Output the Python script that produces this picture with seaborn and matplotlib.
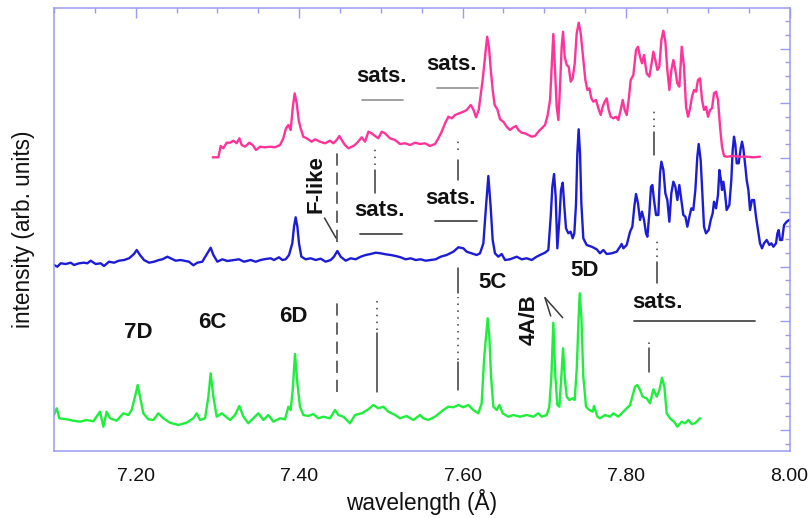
import matplotlib
matplotlib.use("Agg")
import matplotlib.pyplot as plt
from matplotlib.ticker import MultipleLocator, FormatStrFormatter, NullFormatter
import pandas as pd
import seaborn as sns

# ---- spectra (wavelength in Angstrom, intensity in arbitrary units, stacked) ----
low_wl = [7.1000, 7.1033, 7.1065, 7.1155, 7.1237, 7.1318, 7.1400, 7.1481, 7.1563, 7.1604,
          7.1644, 7.1685, 7.1767, 7.1848, 7.1910, 7.1950, 7.1991, 7.2024, 7.2052, 7.2093,
          7.2154, 7.2216, 7.2277, 7.2338, 7.2419, 7.2521, 7.2623, 7.2705, 7.2746, 7.2787,
          7.2848, 7.2889, 7.2917, 7.2950, 7.2991, 7.3052, 7.3154, 7.3215, 7.3268, 7.3317,
          7.3378, 7.3439, 7.3500, 7.3562, 7.3623, 7.3684, 7.3766, 7.3827, 7.3868, 7.3896,
          7.3921, 7.3949, 7.3978, 7.4010, 7.4051, 7.4112, 7.4173, 7.4235, 7.4296, 7.4377,
          7.4439, 7.4479, 7.4541, 7.4622, 7.4683, 7.4765, 7.4847, 7.4908, 7.4969, 7.5030,
          7.5091, 7.5173, 7.5234, 7.5315, 7.5397, 7.5479, 7.5519, 7.5581, 7.5662, 7.5764,
          7.5825, 7.5887, 7.5948, 7.6009, 7.6070, 7.6131, 7.6192, 7.6233, 7.6262, 7.6286,
          7.6307, 7.6327, 7.6348, 7.6376, 7.6417, 7.6450, 7.6490, 7.6560, 7.6621, 7.6703,
          7.6784, 7.6866, 7.6927, 7.6968, 7.7029, 7.7061, 7.7086, 7.7110, 7.7135, 7.7159,
          7.7184, 7.7208, 7.7229, 7.7249, 7.7274, 7.7306, 7.7347, 7.7371, 7.7396, 7.7420,
          7.7433, 7.7453, 7.7477, 7.7510, 7.7551, 7.7592, 7.7608, 7.7649, 7.7681, 7.7743,
          7.7804, 7.7845, 7.7906, 7.7947, 7.7987, 7.8049, 7.8110, 7.8138, 7.8171, 7.8203,
          7.8252, 7.8293, 7.8334, 7.8375, 7.8408, 7.8440, 7.8469, 7.8497, 7.8538, 7.8587,
          7.8628, 7.8681, 7.8721, 7.8762, 7.8803, 7.8844, 7.8905]
low_int = [15.0, 21.7, 11.7, 10.7, 9.3, 8.3, 10.0, 8.7, 18.3, 3.3,
           18.3, 11.7, 9.3, 16.7, 15.0, 20.0, 33.3, 45.0, 33.3, 16.7,
           10.7, 10.0, 16.7, 11.7, 7.3, 5.0, 7.3, 11.7, 16.7, 10.0,
           11.7, 33.3, 56.7, 33.3, 13.3, 16.7, 10.0, 15.0, 24.0, 13.3,
           6.7, 11.7, 16.7, 10.0, 15.0, 8.3, 11.7, 10.7, 23.3, 20.0,
           40.0, 76.0, 46.7, 23.3, 15.0, 14.0, 16.0, 11.7, 13.3, 11.7,
           20.0, 15.0, 13.3, 6.7, 15.0, 16.7, 20.7, 25.0, 21.7, 23.3,
           18.3, 15.0, 11.7, 14.0, 10.0, 15.0, 11.7, 10.0, 13.3, 20.0,
           23.3, 22.7, 25.0, 22.7, 25.0, 20.0, 16.7, 26.7, 70.0, 93.3,
           111.7, 93.3, 53.3, 23.3, 20.0, 25.0, 16.7, 13.3, 15.0, 13.3,
           15.0, 13.3, 16.7, 13.3, 15.0, 23.3, 53.3, 107.3, 53.3, 25.0,
           23.3, 53.3, 81.7, 53.3, 33.3, 30.0, 31.7, 30.0, 60.0, 113.3,
           136.7, 113.3, 53.3, 23.3, 20.0, 18.3, 24.0, 13.3, 11.7, 15.0,
           13.3, 16.7, 13.3, 16.7, 20.0, 25.0, 43.3, 45.0, 40.0, 33.3,
           31.7, 26.7, 40.7, 33.3, 40.0, 52.3, 43.3, 16.7, 11.7, 8.3,
           3.3, 8.3, 6.7, 10.0, 6.0, 6.7, 11.7]

mid_wl = [7.1000, 7.1041, 7.1082, 7.1143, 7.1204, 7.1245, 7.1306, 7.1367, 7.1408, 7.1449,
          7.1510, 7.1571, 7.1612, 7.1673, 7.1734, 7.1795, 7.1857, 7.1918, 7.1979, 7.2012,
          7.2052, 7.2101, 7.2163, 7.2224, 7.2285, 7.2326, 7.2387, 7.2428, 7.2489, 7.2550,
          7.2611, 7.2652, 7.2705, 7.2754, 7.2815, 7.2876, 7.2917, 7.2950, 7.2999, 7.3060,
          7.3121, 7.3203, 7.3264, 7.3325, 7.3407, 7.3468, 7.3529, 7.3590, 7.3651, 7.3692,
          7.3753, 7.3794, 7.3835, 7.3876, 7.3916, 7.3937, 7.3957, 7.3978, 7.3998, 7.4027,
          7.4080, 7.4141, 7.4202, 7.4263, 7.4324, 7.4386, 7.4426, 7.4467, 7.4508, 7.4569,
          7.4630, 7.4691, 7.4753, 7.4814, 7.4875, 7.4936, 7.4997, 7.5059, 7.5120, 7.5181,
          7.5242, 7.5303, 7.5365, 7.5426, 7.5487, 7.5548, 7.5609, 7.5670, 7.5732, 7.5805,
          7.5887, 7.5948, 7.6009, 7.6050, 7.6111, 7.6172, 7.6213, 7.6254, 7.6286, 7.6315,
          7.6343, 7.6368, 7.6396, 7.6437, 7.6478, 7.6519, 7.6580, 7.6662, 7.6723, 7.6784,
          7.6845, 7.6906, 7.6947, 7.7008, 7.7049, 7.7078, 7.7098, 7.7119, 7.7139, 7.7159,
          7.7184, 7.7204, 7.7225, 7.7245, 7.7265, 7.7294, 7.7322, 7.7347, 7.7367, 7.7388,
          7.7404, 7.7420, 7.7437, 7.7453, 7.7477, 7.7518, 7.7579, 7.7641, 7.7681, 7.7722,
          7.7763, 7.7824, 7.7885, 7.7926, 7.7946, 7.7967, 7.8008, 7.8049, 7.8077, 7.8101,
          7.8122, 7.8146, 7.8171, 7.8195, 7.8220, 7.8244, 7.8261, 7.8285, 7.8305, 7.8322,
          7.8342, 7.8367, 7.8395, 7.8416, 7.8432, 7.8457, 7.8481, 7.8505, 7.8530, 7.8554,
          7.8579, 7.8603, 7.8628, 7.8652, 7.8677, 7.8701, 7.8726, 7.8750, 7.8775, 7.8799,
          7.8823, 7.8848, 7.8872, 7.8889, 7.8913, 7.8929, 7.8954, 7.8978, 7.9011, 7.9036,
          7.9060, 7.9076, 7.9101, 7.9125, 7.9142, 7.9158, 7.9174, 7.9191, 7.9211, 7.9231,
          7.9264, 7.9288, 7.9305, 7.9321, 7.9338, 7.9354, 7.9378, 7.9403, 7.9419, 7.9435,
          7.9460, 7.9476, 7.9497, 7.9517, 7.9541, 7.9566, 7.9590, 7.9615, 7.9639, 7.9664,
          7.9688, 7.9721, 7.9754, 7.9778, 7.9803, 7.9835, 7.9852, 7.9868, 7.9884, 7.9909,
          7.9933, 7.9966, 7.9995]
mid_int = [165.0, 163.3, 166.7, 166.0, 167.3, 165.0, 166.7, 167.3, 166.7, 169.3,
           166.0, 166.7, 164.0, 168.3, 167.3, 169.3, 170.0, 171.7, 176.0, 180.0,
           175.0, 170.0, 167.3, 168.3, 170.0, 170.7, 173.3, 171.7, 169.3, 170.0,
           169.0, 168.3, 164.7, 167.3, 168.3, 176.7, 182.3, 175.0, 168.3, 170.7,
           169.0, 170.0, 170.7, 168.3, 170.0, 168.3, 170.0, 171.0, 171.7, 170.0,
           172.7, 170.0, 170.7, 175.0, 186.7, 203.3, 212.7, 203.3, 186.7, 173.3,
           170.7, 171.7, 170.0, 171.3, 168.3, 170.0, 173.3, 179.0, 173.3, 169.3,
           171.7, 170.7, 173.3, 175.0, 176.0, 177.3, 176.7, 175.7, 175.0, 174.0,
           172.7, 170.7, 171.7, 170.0, 170.7, 169.3, 170.0, 170.7, 173.3, 175.0,
           178.3, 182.7, 181.7, 178.3, 176.7, 175.0, 176.7, 186.7, 223.3, 254.0,
           223.3, 190.0, 176.7, 173.3, 176.0, 170.0, 170.7, 173.3, 170.7, 171.7,
           170.0, 173.3, 175.0, 177.3, 180.0, 213.3, 243.3, 256.0, 233.3, 181.7,
           210.0, 240.0, 247.3, 223.3, 201.7, 196.7, 198.3, 191.7, 196.7, 226.7,
           276.7, 300.7, 276.7, 226.7, 191.7, 185.0, 183.3, 180.7, 176.7, 180.0,
           176.0, 176.7, 178.3, 183.3, 186.0, 181.7, 185.0, 198.3, 203.3, 223.3,
           236.0, 226.7, 210.0, 218.3, 210.0, 196.7, 193.3, 216.7, 243.3, 245.0,
           230.0, 215.0, 215.0, 256.7, 268.3, 260.0, 236.7, 230.0, 208.3, 236.7,
           248.3, 243.3, 230.0, 245.0, 230.0, 215.0, 213.3, 203.3, 213.3, 221.7,
           220.0, 240.0, 273.3, 286.0, 270.0, 243.3, 203.3, 196.7, 200.0, 210.0,
           216.7, 228.3, 221.7, 235.0, 260.0, 251.7, 240.0, 248.3, 236.7, 220.0,
           225.0, 250.0, 280.0, 293.3, 285.0, 266.7, 266.7, 281.7, 288.3, 281.7,
           263.3, 250.0, 240.0, 220.0, 230.0, 230.0, 213.3, 200.0, 186.7, 181.7,
           186.7, 190.0, 185.0, 186.7, 183.3, 186.7, 196.7, 200.0, 190.0, 190.0,
           205.0, 208.3, 210.0]

high_wl = [7.2942, 7.3011, 7.3040, 7.3072, 7.3113, 7.3154, 7.3195, 7.3235, 7.3268, 7.3297,
           7.3337, 7.3390, 7.3431, 7.3472, 7.3521, 7.3582, 7.3643, 7.3704, 7.3766, 7.3806,
           7.3839, 7.3868, 7.3896, 7.3921, 7.3945, 7.3970, 7.3994, 7.4018, 7.4051, 7.4092,
           7.4153, 7.4194, 7.4255, 7.4316, 7.4377, 7.4418, 7.4459, 7.4492, 7.4520, 7.4561,
           7.4602, 7.4663, 7.4704, 7.4765, 7.4806, 7.4847, 7.4887, 7.4928, 7.4969, 7.5010,
           7.5050, 7.5112, 7.5173, 7.5234, 7.5295, 7.5357, 7.5418, 7.5479, 7.5540, 7.5601,
           7.5663, 7.5703, 7.5744, 7.5785, 7.5826, 7.5867, 7.5907, 7.5960, 7.6009, 7.6050,
           7.6099, 7.6131, 7.6164, 7.6197, 7.6245, 7.6275, 7.6300, 7.6322, 7.6345, 7.6368,
           7.6392, 7.6425, 7.6458, 7.6498, 7.6539, 7.6580, 7.6621, 7.6654, 7.6682, 7.6723,
           7.6764, 7.6804, 7.6845, 7.6886, 7.6927, 7.6968, 7.7008, 7.7037, 7.7070, 7.7094,
           7.7110, 7.7131, 7.7151, 7.7172, 7.7192, 7.7212, 7.7229, 7.7249, 7.7274, 7.7298,
           7.7323, 7.7347, 7.7372, 7.7396, 7.7421, 7.7445, 7.7469, 7.7502, 7.7527, 7.7551,
           7.7575, 7.7600, 7.7632, 7.7661, 7.7690, 7.7714, 7.7739, 7.7763, 7.7788, 7.7812,
           7.7845, 7.7877, 7.7906, 7.7934, 7.7959, 7.7983, 7.8008, 7.8032, 7.8057, 7.8089,
           7.8122, 7.8146, 7.8171, 7.8195, 7.8220, 7.8252, 7.8285, 7.8313, 7.8334, 7.8358,
           7.8383, 7.8407, 7.8432, 7.8456, 7.8481, 7.8505, 7.8530, 7.8554, 7.8579, 7.8603,
           7.8627, 7.8652, 7.8681, 7.8709, 7.8734, 7.8758, 7.8783, 7.8807, 7.8832, 7.8856,
           7.8880, 7.8905, 7.8930, 7.8954, 7.8978, 7.9003, 7.9027, 7.9052, 7.9076, 7.9101,
           7.9125, 7.9150, 7.9174, 7.9199, 7.9231, 7.9313, 7.9394, 7.9476, 7.9558, 7.9639]
high_int = [272.7, 272.7, 284.0, 281.7, 287.3, 287.3, 289.3, 286.7, 291.7, 285.0,
            283.3, 287.3, 285.0, 280.0, 283.3, 282.7, 283.3, 282.7, 285.0, 291.7,
            301.7, 305.0, 300.0, 321.7, 336.7, 326.7, 310.0, 301.7, 293.3, 291.7,
            288.3, 290.7, 288.3, 286.7, 289.3, 286.7, 290.0, 294.0, 290.0, 285.0,
            281.7, 284.0, 286.7, 292.7, 288.3, 298.3, 296.7, 294.0, 291.7, 298.3,
            296.7, 291.7, 290.0, 286.0, 286.7, 285.0, 287.3, 286.0, 286.7, 284.0,
            286.0, 291.7, 298.3, 306.7, 313.3, 311.7, 315.0, 316.7, 318.3, 320.0,
            325.0, 320.7, 312.7, 320.0, 350.0, 373.3, 393.3, 383.3, 360.0, 340.0,
            325.0, 320.7, 310.7, 308.3, 303.3, 300.0, 302.7, 304.0, 300.0, 297.3,
            296.7, 295.0, 293.3, 294.0, 298.3, 301.7, 305.0, 313.3, 330.0, 370.0,
            396.0, 360.0, 323.3, 310.0, 343.3, 383.3, 398.3, 373.3, 365.0, 363.3,
            348.3, 351.7, 366.7, 396.7, 407.3, 396.7, 376.7, 350.0, 340.0, 341.7,
            331.7, 328.3, 330.0, 321.7, 315.0, 323.3, 328.3, 331.7, 320.0, 313.3,
            311.7, 313.3, 310.0, 320.0, 330.0, 320.0, 315.0, 330.0, 350.0, 355.0,
            380.0, 383.3, 373.3, 366.7, 375.0, 356.7, 353.3, 366.7, 378.3, 370.0,
            360.0, 363.3, 390.0, 399.3, 388.3, 360.0, 340.0, 360.0, 370.0, 360.0,
            346.7, 343.3, 383.3, 363.3, 323.3, 313.3, 321.7, 333.3, 340.0, 338.3,
            350.0, 351.7, 330.0, 320.0, 323.3, 313.3, 320.0, 321.7, 336.7, 338.3,
            330.0, 303.3, 283.3, 274.0, 273.3, 274.0, 273.3, 273.3, 272.7, 273.3]

# ---- line identifications ----
peak_names = ["7D", "6C", "6D", "5C", "5D"]
peak_wl = [7.2028, 7.2933, 7.3925, 7.6360, 7.7486]

AXIS_COL = "#9a9af2"
INK = "#111111"
MARK = "#3a3a3a"

sns.set_style("white")
plt.rcParams["font.family"] = ["Liberation Sans", "DejaVu Sans"]

fig = plt.figure(figsize=(8.09, 5.18), dpi=100)
ax = fig.add_axes([54 / 809, 1 - 451.3 / 518, 735.5 / 809, 443.6 / 518])

traces = [(low_wl, low_int, "#1fee3c"), (mid_wl, mid_int, "#1c1cd6"), (high_wl, high_int, "#ff3399")]
for wl, inten, col in traces:
    df = pd.DataFrame({"wavelength": wl, "intensity": inten})
    sns.lineplot(data=df, x="wavelength", y="intensity", color=col, lw=1.7,
                 estimator=None, sort=False, ax=ax)

ax.set_xlim(7.10, 8.00)
ax.set_ylim(-21.3, 422.3)

# ---- axes styling ----
for s in ax.spines.values():
    s.set_color(AXIS_COL)
    s.set_linewidth(1.1)
ax.xaxis.set_major_locator(MultipleLocator(0.2))
ax.xaxis.set_minor_locator(MultipleLocator(0.05))
ax.xaxis.set_major_formatter(FormatStrFormatter("%.2f"))
ax.yaxis.set_major_locator(MultipleLocator(54.5))
ax.yaxis.set_minor_locator(MultipleLocator(13.625))
ax.yaxis.set_major_formatter(NullFormatter())
ax.tick_params(which="both", direction="in", top=True, right=True, color=AXIS_COL, width=1.0)
ax.tick_params(which="major", length=7)
ax.tick_params(which="minor", length=3.5)
ax.tick_params(axis="x", labelsize=14, pad=12, labelcolor=INK)
ax.tick_params(axis="y", labelleft=False)
ax.set_xlabel("wavelength (Å)", fontsize=16.3, labelpad=3, color=INK)
ax.set_ylabel("intensity (arb. units)", fontsize=16.3, labelpad=10, color=INK)

# ---- marker lines: (wavelength, low, high, style) ----
DOT = (0, (1, 3.5))
DASH = (0, (8, 4.5))
marks = [
    (7.4467, 188, 282, DASH), (7.4467, 38, 132, DASH),
    (7.4928, 265, 284, DOT), (7.4928, 237, 260, "-"),
    (7.4950, 100, 132, DOT), (7.4950, 38, 97, "-"),
    (7.5947, 280, 290, DOT), (7.5947, 250, 270, "-"),
    (7.5947, 137, 162, "-"), (7.5947, 70, 133, DOT), (7.5947, 40, 68, "-"),
    (7.8342, 303, 323, DOT), (7.8342, 275, 298, "-"),
    (7.8379, 173, 193, DOT), (7.8379, 147, 168, "-"),
    (7.8281, 86, 90, DOT), (7.8281, 58, 82, "-"),
]
for w, y0, y1, ls in marks:
    ax.plot([w, w], [y0, y1], color=MARK, lw=1.1, linestyle=ls)

# satellite bars
bars = [(7.4769, 7.5271, 330, "#9a9a9a"), (7.5687, 7.6189, 342, "#9a9a9a"),
        (7.4744, 7.5258, 196, "#4a4a4a"), (7.5662, 7.6176, 209, "#4a4a4a"),
        (7.8097, 7.9578, 109, "#4a4a4a")]
for x0, x1, y, c in bars:
    ax.plot([x0, x1], [y, y], color=c, lw=1.3)

bold = dict(fontsize=16, fontweight="bold", color=INK, ha="center", va="center")
for x, y in [(7.5001, 354), (7.5858, 366), (7.4977, 220), (7.5846, 232), (7.8379, 128)]:
    ax.text(x, y, "sats.", **bold)
for name, w, y in zip(peak_names, peak_wl, [97, 108, 113, 147, 159]):
    ax.text(w, y, name, **bold)
ax.text(7.4206, 246, "F-like", rotation=90, **bold)
ax.text(7.6813, 110, "4A/B", rotation=90, **bold)

# leaders
ax.plot([7.4310, 7.4451], [212, 192], color=MARK, lw=1.1)
ax.plot([7.7008, 7.7078], [132.3, 114], color=MARK, lw=1.1)
ax.plot([7.7008, 7.7225], [132.3, 112.3], color=MARK, lw=1.1)

fig.savefig("out.png", dpi=100)
